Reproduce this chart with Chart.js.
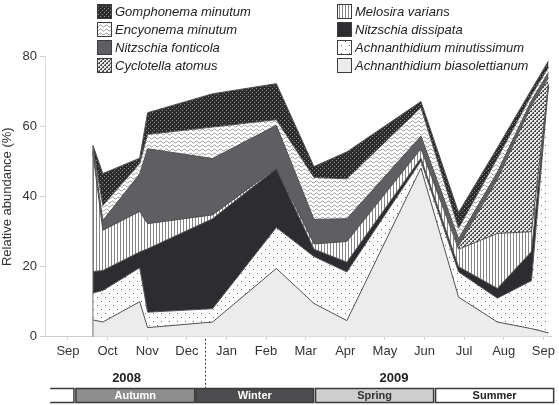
<!DOCTYPE html>
<html lang="en">
<head>
<meta charset="UTF-8">
<title>Relative abundance of diatoms</title>
<script src="https://cdn.jsdelivr.net/npm/chart.js"></script>
<style>
  html, body { margin: 0; padding: 0; background: #fff; }
</style>
</head>
<body>
<canvas id="chart" width="559" height="405"></canvas>
<script>
// sampling dates, in months counted from Sep 2008 (0 = Sep 2008, 12 = Sep 2009)
const sampleMonths = [0.63, 0.88, 1.81, 2.01, 3.65, 5.26, 6.21, 7.04, 8.91, 9.86, 10.84, 11.70, 12.13];
const monthLabels = ['Sep', 'Oct', 'Nov', 'Dec', 'Jan', 'Feb', 'Mar', 'Apr', 'May', 'Jun', 'Jul', 'Aug', 'Sep'];
const yTicks = [0, 20, 40, 60, 80];

// relative abundance (%) of each taxon, stacked bottom to top
const aBiasolettianum = [4.8, 4.2, 10.0, 2.6, 4.2, 19.5, 9.5, 4.6, 48.2, 11.3, 4.2, 2.3, 1.1];
const aMinutissimum   = [7.7, 9.0, 9.7, 4.4, 3.8, 11.7, 13.4, 13.9, 2.0, 7.2, 6.8, 13.7, 70.9];
const nDissipata      = [6.1, 5.7, 4.5, 18.1, 25.7, 16.8, 2.1, 2.8, 0.8, 1.5, 2.8, 8.3, 0];
const mVarians        = [33.9, 11.5, 11.6, 7.2, 1.1, 0.2, 1.5, 5.9, 2.7, 5.0, 15.7, 5.7, 0];
const cAtomus         = [0, 0, 0, 0, 0, 0, 0, 0, 0, 1.0, 15.5, 36.0, 2.0];
const nFonticola      = [0.8, 2.8, 10.7, 21.4, 16.1, 12.2, 7.0, 6.5, 3.6, 2.0, 2.0, 1.5, 1.5];
const eMinutum        = [0.7, 4.3, 3.0, 4.1, 9.0, 1.6, 12.0, 11.4, 8.2, 3.0, 4.0, 1.5, 1.5];
const gMinutum        = [0.7, 9.1, 1.5, 6.2, 9.5, 10.3, 3.1, 7.7, 1.7, 4.5, 3.0, 1.6, 1.8];

const years = ['2008', '2009'];
const seasons = ['Autumn', 'Winter', 'Spring', 'Summer'];

const FONT = '"Liberation Sans", Arial, sans-serif';
const canvas = document.getElementById('chart');
const ctx = canvas.getContext('2d');

// little tiles for the hatch fills
function makePattern(w, h, draw) {
    const c = document.createElement('canvas');
    c.width = w; c.height = h;
    const g = c.getContext('2d');
    draw(g);
    return ctx.createPattern(c, 'repeat');
}

const fills = {
    ab: '#ececec',
    am: makePattern(8, 8, g => {
        g.fillStyle = '#fff'; g.fillRect(0, 0, 8, 8);
        g.fillStyle = '#6a6a6a'; g.fillRect(1, 1, 1, 1); g.fillRect(5, 5, 1, 1);
    }),
    nd: '#2d2d31',
    mv: makePattern(3, 3, g => {
        g.fillStyle = '#fff'; g.fillRect(0, 0, 3, 3);
        g.fillStyle = '#858585'; g.fillRect(0, 0, 1, 3);
    }),
    ca: makePattern(4, 4, g => {
        g.fillStyle = '#e8e8e8'; g.fillRect(0, 0, 4, 4);
        g.fillStyle = '#4a4a4a';
        g.fillRect(0, 0, 2, 2); g.fillRect(2, 2, 2, 2);
        g.fillStyle = '#bdbdbd';
        g.fillRect(0, 0, 1, 1); g.fillRect(2, 2, 1, 1);
    }),
    nf: '#5f5f63',
    em: makePattern(6, 4, g => {
        g.fillStyle = '#fff'; g.fillRect(0, 0, 6, 4);
        g.strokeStyle = '#767676'; g.lineWidth = 0.8;
        g.beginPath();
        for (let x = 0; x <= 6; x += 0.5) {
            const y = 2 + Math.sin(x / 6 * Math.PI * 2);
            if (x === 0) g.moveTo(x, y); else g.lineTo(x, y);
        }
        g.stroke();
    }),
    gm: makePattern(4, 4, g => {
        g.fillStyle = '#2c2c2c'; g.fillRect(0, 0, 4, 4);
        g.fillStyle = '#8e8e8e'; g.fillRect(0, 0, 1, 1); g.fillRect(2, 2, 1, 1);
    })
};

const series = [
    { label: 'Achnanthidium biasolettianum', data: aBiasolettianum, fill: fills.ab },
    { label: 'Achnanthidium minutissimum', data: aMinutissimum, fill: fills.am },
    { label: 'Nitzschia dissipata', data: nDissipata, fill: fills.nd },
    { label: 'Melosira varians', data: mVarians, fill: fills.mv },
    { label: 'Cyclotella atomus', data: cAtomus, fill: fills.ca },
    { label: 'Nitzschia fonticola', data: nFonticola, fill: fills.nf },
    { label: 'Encyonema minutum', data: eMinutum, fill: fills.em },
    { label: 'Gomphonema minutum', data: gMinutum, fill: fills.gm }
];

const datasets = series.map((s, i) => ({
    label: s.label,
    data: s.data.map((v, j) => ({ x: sampleMonths[j], y: v })),
    backgroundColor: s.fill,
    borderColor: '#505050',
    borderWidth: 1,
    pointRadius: 0,
    tension: 0,
    fill: i === 0 ? 'origin' : '-1'
}));

// legend order: left column then right column
const legendOrder = [
    'Gomphonema minutum', 'Encyonema minutum', 'Nitzschia fonticola', 'Cyclotella atomus',
    'Melosira varians', 'Nitzschia dissipata', 'Achnanthidium minutissimum', 'Achnanthidium biasolettianum'
];

const decor = {
    id: 'decor',
    afterDatasetsDraw(chart) {
        // left edge of the stacked block
        const c = chart.ctx, xs = chart.scales.x, ys = chart.scales.y;
        const total = series.reduce((a, s) => a + s.data[0], 0);
        const px = xs.getPixelForValue(sampleMonths[0]);
        c.save();
        c.strokeStyle = '#707070'; c.lineWidth = 1;
        c.beginPath(); c.moveTo(px, ys.getPixelForValue(0)); c.lineTo(px, ys.getPixelForValue(total)); c.stroke();
        c.restore();
    },
    afterDraw(chart) {
        const c = chart.ctx, xs = chart.scales.x;
        const area = chart.chartArea;
        c.save();

        // legend
        c.font = 'italic 13px ' + FONT;
        c.textBaseline = 'middle';
        legendOrder.forEach((name, i) => {
            const ds = chart.data.datasets.find(d => d.label === name);
            const col = Math.floor(i / 4), row = i % 4;
            const sx = col === 0 ? 97 : 337, sy = 4 + row * 18;
            c.fillStyle = ds.backgroundColor;
            c.fillRect(sx, sy, 15, 15);
            c.strokeStyle = '#3c3c3c'; c.lineWidth = 1;
            c.strokeRect(sx + 0.5, sy + 0.5, 14, 14);
            c.fillStyle = '#222';
            c.textAlign = 'left';
            c.fillText(name, sx + 18, sy + 8);
        });

        // dashed line between 2008 and 2009
        const yb = xs.getPixelForValue(3.45);
        c.strokeStyle = '#333'; c.lineWidth = 1; c.setLineDash([2, 2]);
        c.beginPath(); c.moveTo(Math.round(yb) + 0.5, area.bottom + 2); c.lineTo(Math.round(yb) + 0.5, 388); c.stroke();
        c.setLineDash([]);

        // years
        c.font = 'bold 13px ' + FONT;
        c.fillStyle = '#222';
        c.textAlign = 'center';
        c.fillText(years[0], xs.getPixelForValue(1.48), 378);
        c.fillText(years[1], xs.getPixelForValue(8.23), 378);

        // season bar
        const top = 388.5, h = 14;
        const boxes = [
            { from: 0.2, to: 3.2, bg: '#8e8e8e', fg: '#fff' },
            { from: 3.23, to: 6.2, bg: '#4d4d50', fg: '#fff' },
            { from: 6.25, to: 9.23, bg: '#cecece', fg: '#333' },
            { from: 9.28, to: 12.26, bg: '#fff', fg: '#222' }
        ];
        c.lineWidth = 1.5; c.strokeStyle = '#3a3a3a';
        // end of summer 2008, open on the left
        const p0 = xs.getPixelForValue(-0.45), p1 = xs.getPixelForValue(0.15);
        c.beginPath();
        c.moveTo(p0, top); c.lineTo(p1, top); c.lineTo(p1, top + h); c.lineTo(p0, top + h);
        c.stroke();
        c.font = 'bold 11px ' + FONT;
        boxes.forEach((b, i) => {
            const a = xs.getPixelForValue(b.from), z = xs.getPixelForValue(b.to);
            c.fillStyle = b.bg;
            c.fillRect(a, top, z - a, h);
            c.strokeRect(a, top, z - a, h);
            c.fillStyle = b.fg;
            c.fillText(seasons[i], (a + z) / 2, top + h / 2 + 0.5);
        });
        c.restore();
    }
};

new Chart(ctx, {
    type: 'line',
    data: { datasets },
    options: {
        responsive: false,
        animation: false,
        layout: { padding: { top: 56.7, right: 6, bottom: 0, left: 0 } },
        plugins: {
            legend: { display: false },
            tooltip: { enabled: false },
            filler: { propagate: false }
        },
        scales: {
            x: {
                type: 'linear',
                min: -0.58,
                max: 12.2,
                afterBuildTicks: s => { s.ticks = monthLabels.map((_, i) => ({ value: i })); },
                afterFit: s => { s.height = 68.3; },
                ticks: {
                    autoSkip: false,
                    maxRotation: 0,
                    padding: 4,
                    color: '#333',
                    font: { family: FONT, size: 13 },
                    callback: v => monthLabels[v]
                },
                grid: { drawOnChartArea: false, tickLength: 3, color: '#cfcfcf' },
                border: { color: '#cfcfcf' }
            },
            y: {
                stacked: true,
                min: 0,
                max: 80,
                afterBuildTicks: s => { s.ticks = yTicks.map(v => ({ value: v })); },
                afterFit: s => { s.width = 45; },
                ticks: {
                    padding: 3,
                    color: '#333',
                    font: { family: FONT, size: 13 }
                },
                grid: { drawOnChartArea: false, tickLength: 5, color: '#cfcfcf' },
                border: { color: '#dcdcdc' },
                title: {
                    display: true,
                    text: 'Relative abundance (%)',
                    color: '#333',
                    font: { family: FONT, size: 13 },
                    padding: { top: 0, bottom: 0 }
                }
            }
        }
    },
    plugins: [decor]
});
</script>
</body>
</html>
